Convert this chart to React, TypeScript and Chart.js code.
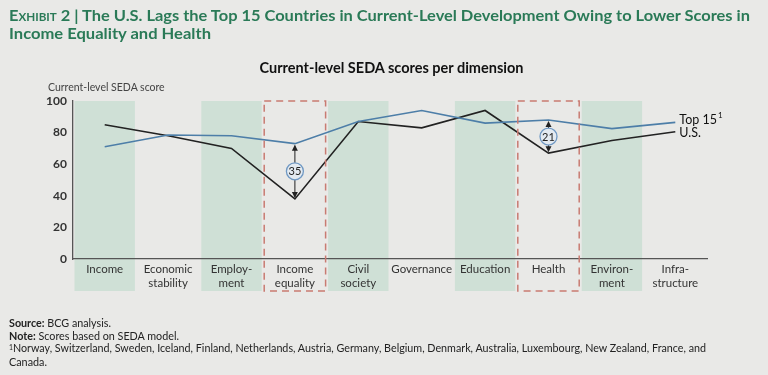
import React, { useEffect, useLayoutEffect, useRef } from "react";
import { Chart, registerables } from "chart.js";

Chart.register(...registerables);

const categories: (string | string[])[] = [
  "Income",
  ["Economic", "stability"],
  ["Employ-", "ment"],
  ["Income", "equality"],
  ["Civil", "society"],
  "Governance",
  "Education",
  "Health",
  ["Environ-", "ment"],
  ["Infra-", "structure"],
];
const top15Values = [71, 78.5, 78, 73, 87, 94, 86, 88, 82.5, 86.5];
const usValues = [85, 78, 70, 38, 87, 83, 94, 67, 75, 80.5];
const shadedIndices = [0, 2, 4, 6, 8];
const highlightIndices = [3, 7];
const gapLabels = ["35", "21"];
const yTicks = [0, 20, 40, 60, 80, 100];

const BLUE = "#4d7ea8";
const BLACK = "#222222";
const BAND = "#cfe0d6";
const DASH = "#c97b72";

const overlayPlugin = {
  id: "overlay",
  beforeDraw(chart: any) {
    const { ctx, chartArea, scales } = chart;
    const x = scales.x;
    const step = (chartArea.right - chartArea.left) / categories.length;
    ctx.save();
    ctx.fillStyle = BAND;
    shadedIndices.forEach((i) => {
      const c = x.getPixelForValue(i);
      ctx.fillRect(c - step / 2 + 1.5, chartArea.top, step - 3, 291 - chartArea.top);
    });
    ctx.restore();
  },
  afterDatasetsDraw(chart: any) {
    const { ctx, chartArea, scales } = chart;
    const x = scales.x;
    const y = scales.y;
    const step = (chartArea.right - chartArea.left) / categories.length;
    ctx.save();
    ctx.strokeStyle = DASH;
    ctx.lineWidth = 1.5;
    ctx.setLineDash([7, 5]);
    highlightIndices.forEach((i) => {
      const c = x.getPixelForValue(i);
      ctx.strokeRect(c - step / 2 + 1, chartArea.top, step - 2, 291 - chartArea.top);
    });
    ctx.setLineDash([]);
    highlightIndices.forEach((i, k) => {
      const c = x.getPixelForValue(i);
      const yTop = y.getPixelForValue(top15Values[i]);
      const yBot = y.getPixelForValue(usValues[i]);
      ctx.strokeStyle = BLACK;
      ctx.fillStyle = BLACK;
      ctx.lineWidth = 1;
      ctx.beginPath();
      ctx.moveTo(c, yTop + 2);
      ctx.lineTo(c, yBot - 2);
      ctx.stroke();
      ctx.beginPath();
      ctx.moveTo(c, yTop + 1);
      ctx.lineTo(c - 3, yTop + 7);
      ctx.lineTo(c + 3, yTop + 7);
      ctx.closePath();
      ctx.fill();
      ctx.beginPath();
      ctx.moveTo(c, yBot - 1);
      ctx.lineTo(c - 3, yBot - 7);
      ctx.lineTo(c + 3, yBot - 7);
      ctx.closePath();
      ctx.fill();
      const mid = (yTop + yBot) / 2;
      ctx.beginPath();
      ctx.arc(c, mid, 8.5, 0, Math.PI * 2);
      ctx.fillStyle = "#e3eaf1";
      ctx.fill();
      ctx.strokeStyle = "#6f98c3";
      ctx.lineWidth = 1.3;
      ctx.stroke();
      ctx.fillStyle = "#222";
      ctx.font = "11px Lato";
      ctx.textAlign = "center";
      ctx.textBaseline = "middle";
      ctx.fillText(gapLabels[k], c, mid + 0.5);
    });
    const last = categories.length - 1;
    const lx = x.getPixelForValue(last) + 4;
    ctx.fillStyle = "#111";
    ctx.textAlign = "left";
    ctx.textBaseline = "middle";
    ctx.font = "12.5px Lato";
    ctx.fillText("Top 15", lx, y.getPixelForValue(top15Values[last]) - 2);
    const w = ctx.measureText("Top 15").width;
    ctx.font = "8px Lato";
    ctx.fillText("1", lx + w + 1, y.getPixelForValue(top15Values[last]) - 7);
    ctx.font = "12.5px Lato";
    ctx.fillText("U.S.", lx, y.getPixelForValue(usValues[last]) + 1);
    ctx.restore();
  },
};

function FitText({
  width,
  style,
  children,
}: {
  width: number;
  style: React.CSSProperties;
  children: React.ReactNode;
}) {
  const inner = useRef<HTMLSpanElement>(null);
  useLayoutEffect(() => {
    if (!inner.current) return;
    const w = inner.current.getBoundingClientRect().width;
    if (w > 0) inner.current.style.transform = `scaleX(${width / w})`;
  }, [width]);
  return (
    <div style={{ ...style, position: "absolute", whiteSpace: "nowrap" }}>
      <span ref={inner} style={{ display: "inline-block", transformOrigin: "0 0" }}>
        {children}
      </span>
    </div>
  );
}

export default function App() {
  const ref = useRef<HTMLCanvasElement>(null);
  useEffect(() => {
    if (!ref.current) return;
    const chart = new Chart(ref.current, {
      type: "line",
      data: {
        labels: categories as any,
        datasets: [
          {
            label: "Top 15",
            data: top15Values,
            borderColor: BLUE,
            borderWidth: 1.6,
            pointRadius: 0,
            tension: 0,
          },
          {
            label: "U.S.",
            data: usValues,
            borderColor: BLACK,
            borderWidth: 1.6,
            pointRadius: 0,
            tension: 0,
          },
        ],
      },
      options: {
        responsive: false,
        animation: false,
        devicePixelRatio: 1,
        layout: { padding: { left: 0, top: 101, right: 61, bottom: 0 } },
        plugins: {
          legend: { display: false },
          tooltip: { enabled: false },
          title: { display: false },
        },
        scales: {
          x: {
            type: "category",
            offset: true,
            grid: { display: false, drawTicks: false },
            border: { display: true, color: "#555", width: 1.3 },
            ticks: {
              autoSkip: false,
              maxRotation: 0,
              minRotation: 0,
              padding: 4,
              color: "#333",
              font: { family: "Lato", size: 11.5, lineHeight: 1.15 },
            },
            afterFit(scale: any) {
              scale.height = 116;
            },
          },
          y: {
            min: 0,
            max: 100,
            afterBuildTicks(scale: any) {
              scale.ticks = yTicks.map((v) => ({ value: v }));
            },
            grid: { display: false, drawTicks: false },
            border: { display: true, color: "#555", width: 1.3 },
            ticks: {
              padding: 6,
              color: "#333",
              font: { family: "Lato", size: 12, weight: "bold" },
            },
            afterFit(scale: any) {
              scale.width = 73;
            },
          },
        },
      },
      plugins: [overlayPlugin],
    });
    return () => chart.destroy();
  }, []);

  const headerStyle: React.CSSProperties = {
    left: 9,
    color: "#2a7a57",
    fontWeight: "bold",
    fontSize: 15.5,
    lineHeight: "20px",
  };
  const footStyle: React.CSSProperties = {
    left: 9,
    fontSize: 11,
    lineHeight: "13px",
    color: "#222",
  };

  return (
    <div
      style={{
        position: "fixed",
        left: 0,
        top: 0,
        width: 768,
        height: 375,
        background: "#e9e9e7",
        fontFamily: "Lato, sans-serif",
        overflow: "hidden",
      }}
    >
      <canvas ref={ref} width={768} height={375} style={{ position: "absolute", left: 0, top: 0 }} />
      <FitText width={741} style={{ ...headerStyle, top: 5 }}>
        <span style={{ fontVariant: "small-caps" }}>Exhibit 2</span> | The U.S. Lags the Top 15 Countries in
        Current-Level Development Owing to Lower Scores in
      </FitText>
      <FitText width={202} style={{ ...headerStyle, top: 23 }}>
        Income Equality and Health
      </FitText>
      <div
        style={{
          position: "absolute",
          left: 0,
          width: 783,
          top: 59,
          textAlign: "center",
          fontWeight: "bold",
          fontSize: 14.5,
          color: "#111",
        }}
      >
        Current-level SEDA scores per dimension
      </div>
      <div style={{ position: "absolute", left: 48, top: 81, fontSize: 10.5, color: "#444" }}>
        Current-level SEDA score
      </div>
      <FitText width={102} style={{ ...footStyle, top: 315.5 }}>
        <b>Source:</b> BCG analysis.
      </FitText>
      <FitText width={170} style={{ ...footStyle, top: 328.5 }}>
        <b>Note:</b> Scores based on SEDA model.
      </FitText>
      <FitText width={697} style={{ ...footStyle, top: 341 }}>
        <sup style={{ fontSize: 7, verticalAlign: "top" }}>1</sup>Norway, Switzerland, Sweden, Iceland, Finland,
        Netherlands, Austria, Germany, Belgium, Denmark, Australia, Luxembourg, New Zealand, France, and
      </FitText>
      <FitText width={38} style={{ ...footStyle, top: 354.5 }}>
        Canada.
      </FitText>
    </div>
  );
}
